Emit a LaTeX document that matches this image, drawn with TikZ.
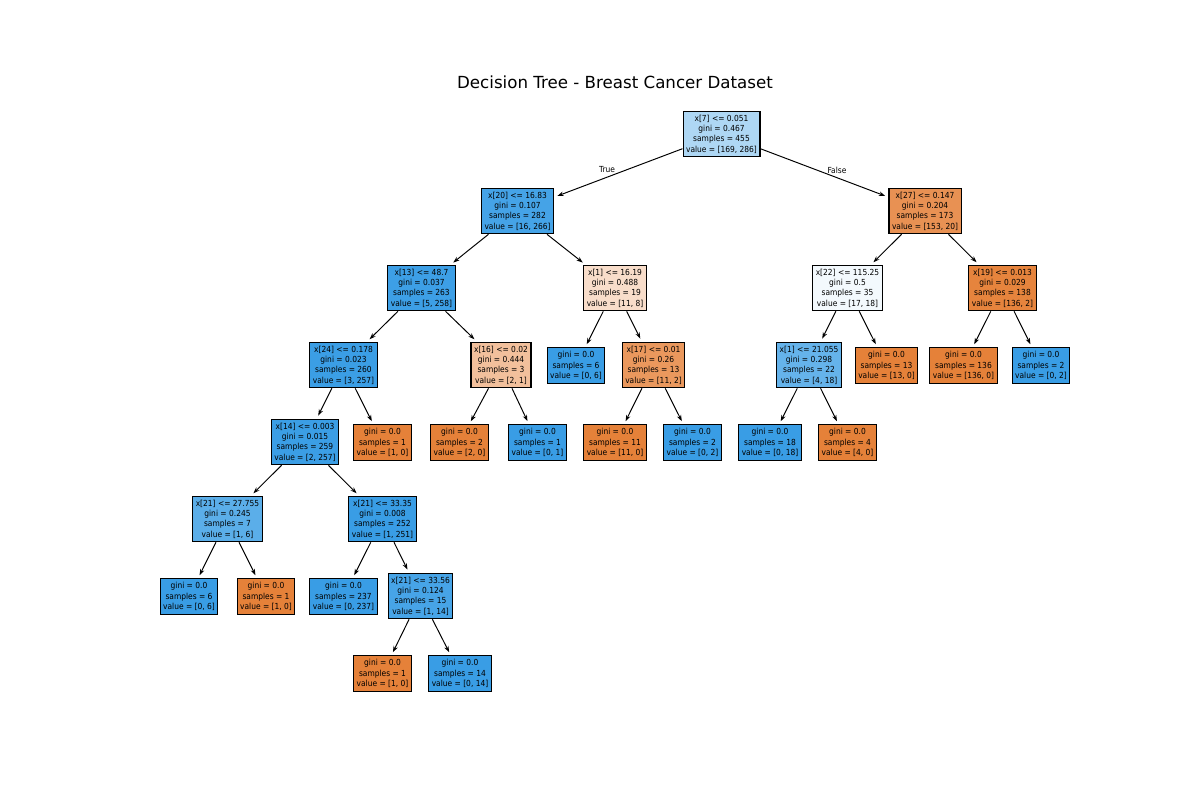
\documentclass[tikz,border=0pt]{standalone}
\usepackage{fontspec}
\setmainfont{DejaVu Sans}
\newfontfamily\nodefont[FakeStretch=0.9]{DejaVu Sans}
\usetikzlibrary{arrows.meta}
\definecolor{blueC}{RGB}{57,157,229}
\definecolor{orangeC}{RGB}{229,129,57}
\begin{document}
\begin{tikzpicture}[x=0.72pt,y=-0.72pt,
  box/.style={draw=black,line width=0.8pt,align=center,inner xsep=2.2pt,inner ysep=2.6pt,font=\nodefont\fontsize{6}{7.4}\selectfont},
  edge/.style={-{Stealth[length=4.5pt,width=3.2pt]},line width=0.7pt,shorten >=2.5pt,shorten <=0pt},
  elabel/.style={font=\nodefont\fontsize{6}{7.4}\selectfont,inner sep=0pt}]
\useasboundingbox (0,0) rectangle (1200,800);
\node[font=\fontsize{12}{14}\selectfont] (title) at (615,82) {Decision Tree - Breast Cancer Dataset};
% level 0
\node[box,fill=blueC!41!white] (n0) at (721.5,134) {x[7] <= 0.051\\gini = 0.467\\samples = 455\\value = [169, 286]};
% level 1
\node[box,fill=blueC!94!white] (n1) at (517.5,211) {x[20] <= 16.83\\gini = 0.107\\samples = 282\\value = [16, 266]};
\node[box,fill=orangeC!87!white] (n2) at (925,211) {x[27] <= 0.147\\gini = 0.204\\samples = 173\\value = [153, 20]};
% level 2
\node[box,fill=blueC!98!white] (n3) at (421.5,288) {x[13] <= 48.7\\gini = 0.037\\samples = 263\\value = [5, 258]};
\node[box,fill=orangeC!27!white] (n4) at (615,288) {x[1] <= 16.19\\gini = 0.488\\samples = 19\\value = [11, 8]};
\node[box,fill=blueC!6!white] (n5) at (847.5,288) {x[22] <= 115.25\\gini = 0.5\\samples = 35\\value = [17, 18]};
\node[box,fill=orangeC!98!white] (n6) at (1002.5,288) {x[19] <= 0.013\\gini = 0.029\\samples = 138\\value = [136, 2]};
% level 3
\node[box,fill=blueC!99!white] (n7) at (343.5,365) {x[24] <= 0.178\\gini = 0.023\\samples = 260\\value = [3, 257]};
\node[box,fill=orangeC!50!white] (n8) at (501,365) {x[16] <= 0.02\\gini = 0.444\\samples = 3\\value = [2, 1]};
\node[box,fill=blueC] (n9) at (576,365.5) {gini = 0.0\\samples = 6\\value = [0, 6]};
\node[box,fill=orangeC!82!white] (n10) at (653.5,365) {x[17] <= 0.01\\gini = 0.26\\samples = 13\\value = [11, 2]};
\node[box,fill=blueC!78!white] (n11) at (809,365) {x[1] <= 21.055\\gini = 0.298\\samples = 22\\value = [4, 18]};
\node[box,fill=orangeC] (n12) at (886.5,365.5) {gini = 0.0\\samples = 13\\value = [13, 0]};
\node[box,fill=orangeC] (n13) at (963.5,365.5) {gini = 0.0\\samples = 136\\value = [136, 0]};
\node[box,fill=blueC] (n14) at (1041,365.5) {gini = 0.0\\samples = 2\\value = [0, 2]};
% level 4
\node[box,fill=blueC!99!white] (n15) at (305,442) {x[14] <= 0.003\\gini = 0.015\\samples = 259\\value = [2, 257]};
\node[box,fill=orangeC] (n16) at (382.5,442.5) {gini = 0.0\\samples = 1\\value = [1, 0]};
\node[box,fill=orangeC] (n17) at (459.5,442.5) {gini = 0.0\\samples = 2\\value = [2, 0]};
\node[box,fill=blueC] (n18) at (537.5,442.5) {gini = 0.0\\samples = 1\\value = [0, 1]};
\node[box,fill=orangeC] (n19) at (615,442.5) {gini = 0.0\\samples = 11\\value = [11, 0]};
\node[box,fill=blueC] (n20) at (692.5,442.5) {gini = 0.0\\samples = 2\\value = [0, 2]};
\node[box,fill=blueC] (n21) at (770,442.5) {gini = 0.0\\samples = 18\\value = [0, 18]};
\node[box,fill=orangeC] (n22) at (847.5,442.5) {gini = 0.0\\samples = 4\\value = [4, 0]};
% level 5
\node[box,fill=blueC!83!white] (n23) at (227.5,519) {x[21] <= 27.755\\gini = 0.245\\samples = 7\\value = [1, 6]};
\node[box,fill=blueC] (n24) at (382.5,519) {x[21] <= 33.35\\gini = 0.008\\samples = 252\\value = [1, 251]};
% level 6
\node[box,fill=blueC] (n25) at (189,596.5) {gini = 0.0\\samples = 6\\value = [0, 6]};
\node[box,fill=orangeC] (n26) at (266,596.5) {gini = 0.0\\samples = 1\\value = [1, 0]};
\node[box,fill=blueC] (n27) at (343.5,596.5) {gini = 0.0\\samples = 237\\value = [0, 237]};
\node[box,fill=blueC!93!white] (n28) at (420.5,596) {x[21] <= 33.56\\gini = 0.124\\samples = 15\\value = [1, 14]};
% level 7
\node[box,fill=orangeC] (n29) at (382.5,673.5) {gini = 0.0\\samples = 1\\value = [1, 0]};
\node[box,fill=blueC] (n30) at (460,673.5) {gini = 0.0\\samples = 14\\value = [0, 14]};
% edges
\draw[edge] (n0) -- (n1);
\draw[edge] (n0) -- (n2);
\draw[edge] (n1) -- (n3);
\draw[edge] (n1) -- (n4);
\draw[edge] (n2) -- (n5);
\draw[edge] (n2) -- (n6);
\draw[edge] (n3) -- (n7);
\draw[edge] (n3) -- (n8);
\draw[edge] (n4) -- (n9);
\draw[edge] (n4) -- (n10);
\draw[edge] (n5) -- (n11);
\draw[edge] (n5) -- (n12);
\draw[edge] (n6) -- (n13);
\draw[edge] (n6) -- (n14);
\draw[edge] (n7) -- (n15);
\draw[edge] (n7) -- (n16);
\draw[edge] (n8) -- (n17);
\draw[edge] (n8) -- (n18);
\draw[edge] (n10) -- (n19);
\draw[edge] (n10) -- (n20);
\draw[edge] (n11) -- (n21);
\draw[edge] (n11) -- (n22);
\draw[edge] (n15) -- (n23);
\draw[edge] (n15) -- (n24);
\draw[edge] (n23) -- (n25);
\draw[edge] (n23) -- (n26);
\draw[edge] (n24) -- (n27);
\draw[edge] (n24) -- (n28);
\draw[edge] (n28) -- (n29);
\draw[edge] (n28) -- (n30);
% edge labels
\node[elabel] (ltrue) at (607,170) {True};
\node[elabel] (lfalse) at (837,170) {False};
\end{tikzpicture}
\end{document}
